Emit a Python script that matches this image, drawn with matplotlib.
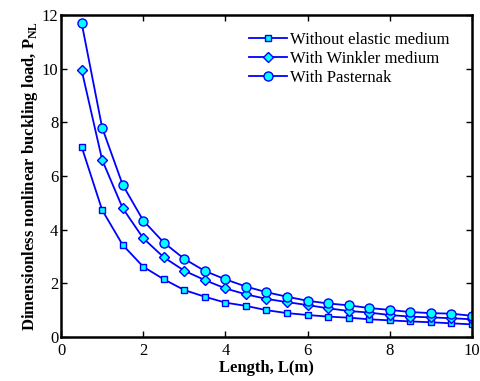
import numpy as np
import matplotlib
matplotlib.use('Agg')
from matplotlib import pyplot as plt

# data
length = [0.5, 1.0, 1.5, 2.0, 2.5, 3.0, 3.5, 4.0, 4.5, 5.0,
          5.5, 6.0, 6.5, 7.0, 7.5, 8.0, 8.5, 9.0, 9.5, 10.0]
without_elastic = [7.09, 4.73, 3.43, 2.62, 2.15, 1.75, 1.50, 1.28, 1.16, 1.00,
                   0.89, 0.82, 0.76, 0.72, 0.66, 0.62, 0.58, 0.55, 0.51, 0.47]
with_winkler = [9.95, 6.60, 4.80, 3.68, 2.97, 2.47, 2.12, 1.81, 1.59, 1.42,
                1.30, 1.19, 1.07, 0.97, 0.91, 0.82, 0.76, 0.73, 0.70, 0.66]
with_pasternak = [11.71, 7.80, 5.67, 4.34, 3.52, 2.91, 2.46, 2.15, 1.88, 1.67,
                  1.50, 1.35, 1.25, 1.18, 1.08, 1.01, 0.93, 0.89, 0.87, 0.79]

plt.rcParams['font.family'] = ['Liberation Serif', 'DejaVu Serif']
plt.rcParams['mathtext.fontset'] = 'custom'
plt.rcParams['mathtext.rm'] = 'Liberation Serif'
plt.rcParams['mathtext.bf'] = 'Liberation Serif:bold'

line_col = '#0000ff'
face_col = '#00ffff'
fs = 12

fig = plt.figure(figsize=(4.81, 3.81), dpi=100)
fig.set_facecolor('white')
ax = fig.add_axes([0.127, 0.1155, 0.854, 0.845])

ax.plot(length, without_elastic, color=line_col, marker='s', markersize=4.5,
        markerfacecolor=face_col, markeredgecolor=line_col, linewidth=1.3,
        label='Without elastic medium')
ax.plot(length, with_winkler, color=line_col, marker='D', markersize=5,
        markerfacecolor=face_col, markeredgecolor=line_col, linewidth=1.3,
        label='With Winkler medium')
ax.plot(length, with_pasternak, color=line_col, marker='o', markersize=6.5,
        markerfacecolor=face_col, markeredgecolor=line_col, linewidth=1.3,
        label='With Pasternak')

ax.set_xlim(0, 10)
ax.set_ylim(0, 12)
ax.set_xticks(np.arange(0, 11, 2))
ax.set_yticks(np.arange(0, 13, 2))
ax.tick_params(direction='in', top=True, right=True, labelsize=fs,
               length=4, width=1, pad=2)
ax.tick_params(axis='x', pad=4)
for s in ax.spines.values():
    s.set_linewidth(1.8)

ax.set_xlabel('Length, L(m)', fontsize=fs, fontweight='bold', labelpad=1)
ax.set_ylabel(r'Dimensionless nonlinear buckling load, P$_{\mathbf{NL}}$',
              fontsize=fs, fontweight='bold', labelpad=1)

ax.legend(loc='upper right', frameon=False, fontsize=fs, handlelength=2.3,
          handletextpad=0.2, labelspacing=0.2, borderaxespad=0.3,
          bbox_to_anchor=(0.975, 0.985))

fig.savefig('out.png', dpi=100)
